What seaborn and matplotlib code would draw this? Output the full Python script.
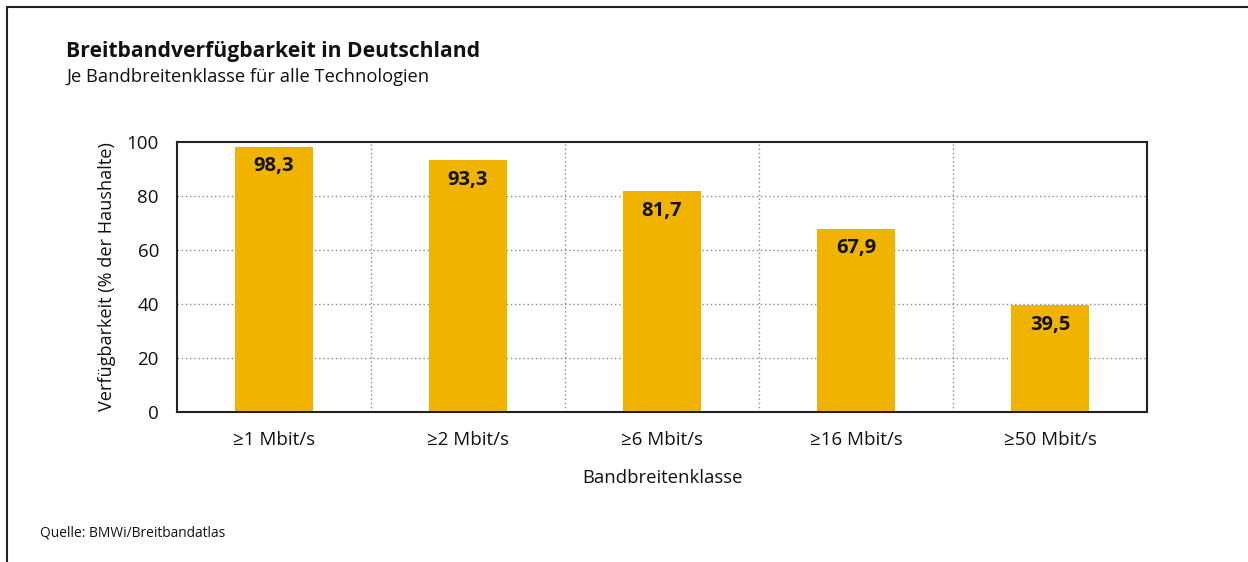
import matplotlib
matplotlib.use("Agg")
import matplotlib.pyplot as plt
import seaborn as sns
import pandas as pd
from matplotlib.lines import Line2D

categories = ["≥1 Mbit/s", "≥2 Mbit/s", "≥6 Mbit/s", "≥16 Mbit/s", "≥50 Mbit/s"]
values = [98.3, 93.3, 81.7, 67.9, 39.5]
value_labels = ["98,3", "93,3", "81,7", "67,9", "39,5"]
yticks = [0, 20, 40, 60, 80, 100]

df = pd.DataFrame({"Klasse": categories, "Wert": values})

sns.set_theme(style="white")
plt.rcParams["font.family"] = ["Open Sans", "DejaVu Sans"]
plt.rcParams["text.color"] = "#111111"
plt.rcParams["axes.labelcolor"] = "#111111"
plt.rcParams["xtick.color"] = "#111111"
plt.rcParams["ytick.color"] = "#111111"

fig = plt.figure(figsize=(12.48, 5.62), dpi=100)
ax = fig.add_axes([177/1248, 1-412/562, 970/1248, 270/562])

sns.barplot(data=df, x="Klasse", y="Wert", color="#F0B400", width=0.4,
            saturation=1, ax=ax, edgecolor="none")

ax.set_xlim(-0.5, len(categories) - 0.5)
ax.set_ylim(0, 100)
ax.set_yticks(yticks)
ax.set_yticklabels([str(t) for t in yticks], fontsize=13.5)
ax.tick_params(axis="x", labelsize=13.5, length=0, pad=14, labelcolor="#111111")
ax.tick_params(axis="y", length=0, pad=13, labelcolor="#111111")

# grid
for t in yticks[1:-1]:
    ax.axhline(t, color="#8a8a8a", linestyle=(0, (1, 2)), linewidth=1, zorder=0)
for i in range(len(categories) - 1):
    ax.axvline(i + 0.5, color="#8a8a8a", linestyle=(0, (1, 2)), linewidth=1, zorder=0)
ax.set_axisbelow(True)

for s in ax.spines.values():
    s.set_visible(True)
    s.set_color("#222222")
    s.set_linewidth(1.5)

for i, (v, lab) in enumerate(zip(values, value_labels)):
    ax.annotate(lab, (i, v), xytext=(0, -7), textcoords="offset points",
                ha="center", va="top", fontsize=14.5, fontweight="bold", color="#111111")

ax.set_xlabel("Bandbreitenklasse", fontsize=13.3, labelpad=14, color="#111111")
ax.set_ylabel("Verfügbarkeit (% der Haushalte)", fontsize=13.1, labelpad=8, color="#111111")

fig.text(66/1248, 1-52/562, "Breitbandverfügbarkeit in Deutschland", fontsize=15.2,
         fontweight="bold", va="center", ha="left", color="#111111")
fig.text(66/1248, 1-77/562, "Je Bandbreitenklasse für alle Technologien", fontsize=13.2,
         va="center", ha="left", color="#111111")
fig.text(40/1248, 1-533/562, "Quelle: BMWi/Breitbandatlas", fontsize=9.9,
         va="center", ha="left", color="#111111")

# outer frame (left and top)
fig.add_artist(Line2D([7/1248, 7/1248], [0, 1-7/562], transform=fig.transFigure,
                      color="#222222", linewidth=1.5))
fig.add_artist(Line2D([7/1248, 1], [1-7/562, 1-7/562], transform=fig.transFigure,
                      color="#222222", linewidth=1.5))

fig.savefig("out.png", dpi=100, facecolor="white")
